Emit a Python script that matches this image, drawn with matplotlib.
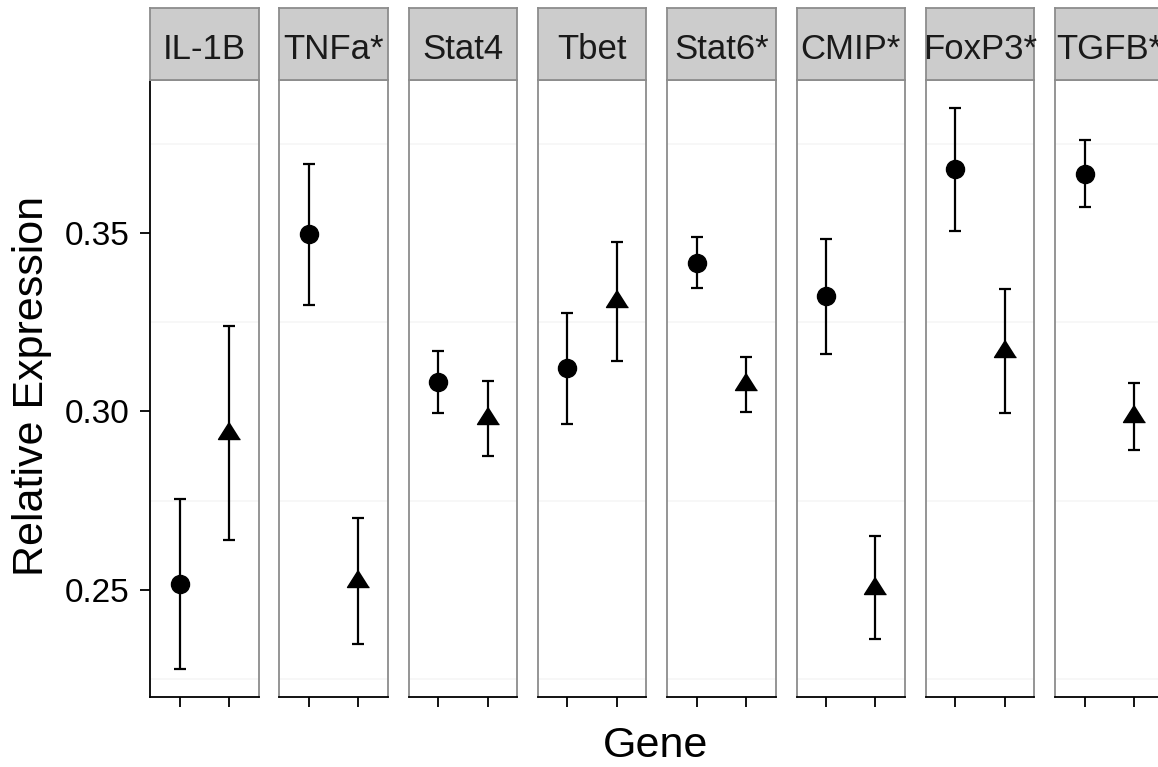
import numpy as np
import matplotlib.pyplot as plt

plt.rcParams['font.family'] = ['Liberation Sans', 'DejaVu Sans']

genes = ['IL-1B', 'TNFa*', 'Stat4', 'Tbet', 'Stat6*', 'CMIP*', 'FoxP3*', 'TGFB*']
groups = [1, 2]
circle_mean = [0.2515, 0.3497, 0.3082, 0.3121, 0.3418, 0.3323, 0.3680, 0.3668]
circle_err = [0.0238, 0.0197, 0.0087, 0.0155, 0.0072, 0.0161, 0.0172, 0.0093]
tri_mean = [0.2939, 0.2524, 0.2981, 0.3309, 0.3076, 0.2505, 0.3170, 0.2986]
tri_err = [0.0300, 0.0178, 0.0105, 0.0168, 0.0077, 0.0144, 0.0175, 0.0093]
y_ticks = [0.25, 0.30, 0.35]
y_grid = [0.225, 0.275, 0.325, 0.375]

# y range like ggplot: data range + 5% each side
lo = min(np.min(np.array(circle_mean) - circle_err), np.min(np.array(tri_mean) - tri_err))
hi = max(np.max(np.array(circle_mean) + circle_err), np.max(np.array(tri_mean) + tri_err))
pad = (hi - lo) * 0.05
ylim = (lo - pad, hi + pad)

# triangle marker centred on its centroid
tri_marker = [(0, 1.0), (-0.97, -0.53), (0.97, -0.53)]

W, H = 1158, 767
fig = plt.figure(figsize=(W / 100, H / 100), dpi=100)

left0, pitch, pw = 150, 129.3, 108.5
top, bottom, strip_top = 80, 697, 8
border = '#8c8c8c'

for i, g in enumerate(genes):
    x0 = left0 + i * pitch
    ax = fig.add_axes([x0 / W, (H - bottom) / H, pw / W, (bottom - top) / H])
    sax = fig.add_axes([x0 / W, (H - top) / H, pw / W, (top - strip_top) / H])

    for yg in y_grid:
        ax.axhline(yg, color='#f6f6f6', lw=1.2, zorder=0)

    ax.errorbar(groups[0], circle_mean[i], yerr=circle_err[i], fmt='none',
                ecolor='black', elinewidth=1.6, capsize=4.6, capthick=1.6)
    ax.plot(groups[0], circle_mean[i], 'o', ms=13, color='black')
    ax.errorbar(groups[1], tri_mean[i], yerr=tri_err[i], fmt='none',
                ecolor='black', elinewidth=1.6, capsize=4.6, capthick=1.6)
    ax.plot(groups[1], tri_mean[i], marker=tri_marker, ms=16.3, color='black', ls='none')

    ax.set_xlim(0.4, 2.6)
    ax.set_ylim(*ylim)
    ax.set_xticks(groups)
    ax.set_xticklabels(['', ''])
    ax.tick_params(axis='x', length=7, width=1.3, color='black')

    for s in ax.spines.values():
        s.set_color(border)
        s.set_linewidth(1.3)
    ax.spines['bottom'].set_color('black')

    if i == 0:
        ax.spines['left'].set_color('black')
        ax.set_yticks(y_ticks)
        ax.set_yticklabels([f'{v:.2f}' for v in y_ticks])
        ax.tick_params(axis='y', length=7, width=1.3, color='black',
                       labelsize=24, pad=8)
    else:
        ax.set_yticks([])

    sax.set_facecolor('#cccccc')
    sax.set_xticks([])
    sax.set_yticks([])
    for s in sax.spines.values():
        s.set_color(border)
        s.set_linewidth(1.3)
    sax.text(0.5, 0.29, g, transform=sax.transAxes, ha='center', va='baseline',
             fontsize=25, color='#1a1a1a')

fig.text(656 / W, 10 / H, 'Gene', ha='center', va='baseline', fontsize=31)
fig.text(32 / W, (H - 386) / H, 'Relative Expression', rotation=90,
         ha='center', va='center', fontsize=31)

fig.savefig('out.png', dpi=100)
